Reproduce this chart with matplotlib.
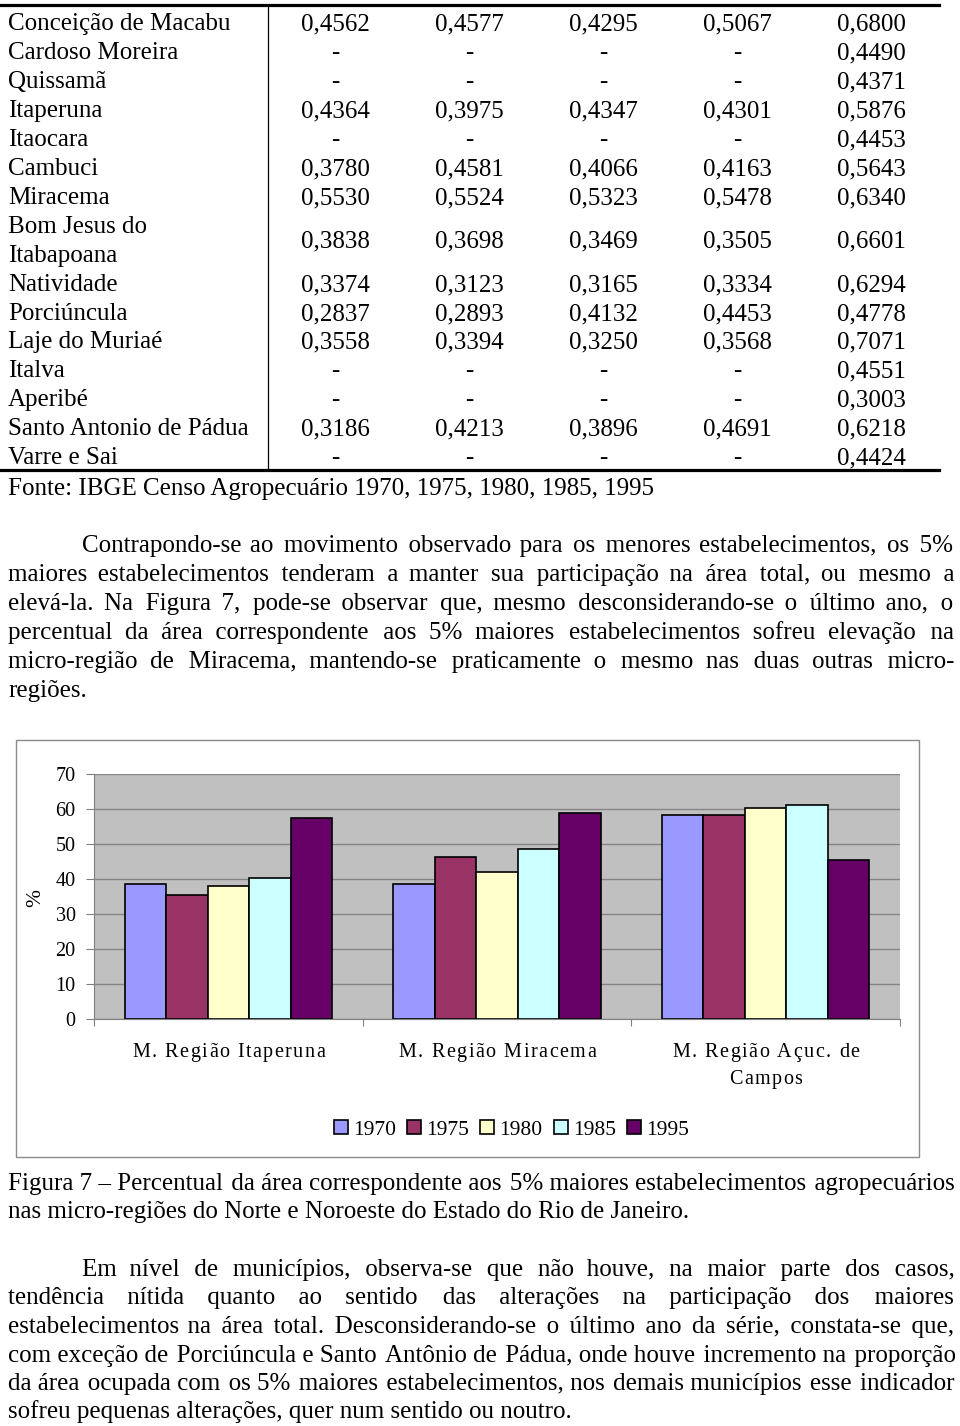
import matplotlib
matplotlib.use("Agg")
import matplotlib.pyplot as plt
from matplotlib.patches import Rectangle

plt.rcParams['font.family'] = ['Liberation Serif', 'DejaVu Serif']

# ------------------ table data ------------------
municipios = ["Conceição de Macabu", "Cardoso Moreira", "Quissamã", "Itaperuna", "Itaocara",
              "Cambuci", "Miracema", "Bom Jesus do\nItabapoana", "Natividade", "Porciúncula",
              "Laje do Muriaé", "Italva", "Aperibé", "Santo Antonio de Pádua", "Varre e Sai"]
t1970 = [0.4562, None, None, 0.4364, None, 0.3780, 0.5530, 0.3838, 0.3374, 0.2837, 0.3558, None, None, 0.3186, None]
t1975 = [0.4577, None, None, 0.3975, None, 0.4581, 0.5524, 0.3698, 0.3123, 0.2893, 0.3394, None, None, 0.4213, None]
t1980 = [0.4295, None, None, 0.4347, None, 0.4066, 0.5323, 0.3469, 0.3165, 0.4132, 0.3250, None, None, 0.3896, None]
t1985 = [0.5067, None, None, 0.4301, None, 0.4163, 0.5478, 0.3505, 0.3334, 0.4453, 0.3568, None, None, 0.4691, None]
t1995 = [0.6800, 0.4490, 0.4371, 0.5876, 0.4453, 0.5643, 0.6340, 0.6601, 0.6294, 0.4778, 0.7071, 0.4551, 0.3003, 0.6218, 0.4424]

# ------------------ chart data ------------------
regioes = ["M. Região Itaperuna", "M. Região Miracema", "M. Região Açuc. de\nCampos"]
anos = ["1970", "1975", "1980", "1985", "1995"]
pct1970 = [38.6, 38.5, 58.2]
pct1975 = [35.4, 46.2, 58.2]
pct1980 = [38.1, 42.1, 60.1]
pct1985 = [40.3, 48.4, 61.0]
pct1995 = [57.4, 58.7, 45.3]
cores = ["#9999FF", "#993366", "#FFFFCC", "#CCFFFF", "#660066"]

# ------------------ text ------------------
fonte = "Fonte: IBGE Censo Agropecuário 1970, 1975, 1980, 1985, 1995"
par1 = ["Contrapondo-se ao movimento observado para os menores estabelecimentos, os 5%",
        "maiores estabelecimentos tenderam a manter sua participação na área total, ou mesmo a",
        "elevá-la. Na Figura 7, pode-se observar que, mesmo desconsiderando-se o último ano, o",
        "percentual da área correspondente aos 5% maiores estabelecimentos sofreu elevação na",
        "micro-região de Miracema, mantendo-se praticamente o mesmo nas duas outras micro-",
        "regiões."]
legenda = ["Figura 7 – Percentual da área correspondente aos 5% maiores estabelecimentos agropecuários",
           "nas micro-regiões do Norte e Noroeste do Estado do Rio de Janeiro."]
par2 = ["Em nível de municípios, observa-se que não houve, na maior parte dos casos,",
        "tendência nítida quanto ao sentido das alterações na participação dos maiores",
        "estabelecimentos na área total. Desconsiderando-se o último ano da série, constata-se que,",
        "com exceção de Porciúncula e Santo Antônio de Pádua, onde houve incremento na proporção",
        "da área ocupada com os 5% maiores estabelecimentos, nos demais municípios esse indicador",
        "sofreu pequenas alterações, quer num sentido ou noutro."]

W, H = 960, 1426
FS = 18
HAIR = "\u200a"
fig = plt.figure(figsize=(W / 100, H / 100), dpi=100)
fig.patch.set_facecolor("white")
page = fig.add_axes([0, 0, 1, 1])
page.set_xlim(0, W)
page.set_ylim(H, 0)
page.axis("off")
renderer = fig.canvas.get_renderer()


def largura_txt(s, size):
    t = page.text(0, 0, s, fontsize=size)
    w = t.get_window_extent(renderer).width
    t.remove()
    return w


hair_w = (largura_txt("x" + HAIR * 40 + "x", FS) - largura_txt("xx", FS)) / 40


def linha(s, x0, x1, y, justify=True, size=FS):
    # whole line as one text; justified by padding the spaces with hair spaces
    t = page.text(x0, y, s, fontsize=size, va="baseline")
    if not justify:
        return
    words = s.split()
    n = len(words) - 1
    extra = (x1 - x0) - t.get_window_extent(renderer).width
    k = max(0, round(extra / hair_w))
    parts = [words[0]]
    for g in range(n):
        cnt = (k * (g + 1)) // n - (k * g) // n
        parts.append(" " + HAIR * cnt + words[g + 1])
    t.set_text("".join(parts))


def espacado(s, xc, y, size, track):
    arts, ws = [], []
    for c in s:
        if c == " ":
            arts.append(None)
            ws.append(size * 100 / 72 * 0.25)
        else:
            a = page.text(0, y, c, fontsize=size, va="baseline")
            arts.append(a)
            ws.append(a.get_window_extent(renderer).width)
    total = sum(ws) + track * (len(s) - 1)
    x = xc - total / 2
    for a, w in zip(arts, ws):
        if a is not None:
            a.set_x(x)
        x += w + track


# ------------------ table ------------------
page.plot([0, 939], [5, 5], color="black", lw=2.3)
page.plot([0, 939], [469.5, 469.5], color="black", lw=2.3)
page.plot([268, 268], [5, 469.5], color="black", lw=0.9)

col_x = [335.5 + 134 * i for i in range(5)]
y = 30.5
for i, nome in enumerate(municipios):
    partes = nome.split("\n")
    for k, p in enumerate(partes):
        page.text(8, round(y + 28.9 * k), p, fontsize=FS, va="baseline")
    yv = round(y + 28.9 * (len(partes) - 1) / 2)
    for cx, serie in zip(col_x, [t1970, t1975, t1980, t1985, t1995]):
        v = serie[i]
        txt = "-" if v is None else f"{v:.4f}".replace(".", ",")
        page.text(cx, yv, txt, fontsize=FS, va="baseline", ha="center")
    y += 28.9 * len(partes)

page.text(8, 495, fonte, fontsize=FS, va="baseline")

# ------------------ paragraphs ------------------
for k, s in enumerate(par1):
    x0 = 82 if k == 0 else 8
    linha(s, x0, 954, round(552.3 + 28.9 * k), justify=(k < len(par1) - 1))

for k, s in enumerate(legenda):
    linha(s, 8, 955, round(1190 + 28.5 * k), justify=(k == 0))

for k, s in enumerate(par2):
    x0 = 82 if k == 0 else 8
    linha(s, x0, 954, round(1276 + 28.5 * k), justify=(k < len(par2) - 1))

# ------------------ chart ------------------
page.add_patch(Rectangle((16, 739.5), 919.3 - 16, 1157 - 739.5, fill=False,
                         edgecolor="#8a8a8a", lw=1.0))

left, right, top, bottom = 94.3, 900, 773.7, 1019.3
ax = fig.add_axes([left / W, 1 - bottom / H, (right - left) / W, (bottom - top) / H])
ax.set_facecolor("#C0C0C0")
ax.set_axisbelow(True)
ax.yaxis.grid(True, color="#858585", lw=1.0)

largura = 0.1545
series = [pct1970, pct1975, pct1980, pct1985, pct1995]
barras = []
for j, (ano, vals, cor) in enumerate(zip(anos, series, cores)):
    xs = [i + (j - 2) * largura for i in range(len(regioes))]
    b = ax.bar(xs, vals, width=largura, color=cor, edgecolor="black", lw=1.2, label=ano)
    barras.append(b)

ax.set_xlim(-0.5, len(regioes) - 0.5)
ax.set_ylim(0, 70)
ax.set_yticks(range(0, 71, 10))
ax.set_xticks([i - 0.5 for i in range(len(regioes) + 1)])
ax.set_xticklabels([])
ax.tick_params(axis="y", length=5.5, color="#808080", pad=8, labelsize=14.5)
ax.tick_params(axis="x", length=5, color="#808080")
for s in ["top", "right"]:
    ax.spines[s].set_visible(False)
for s in ["left", "bottom"]:
    ax.spines[s].set_color("#808080")

page.text(36, 898, "%", fontsize=15.5, rotation=90, ha="center", va="center")

# category labels, letter-spaced like the original
for i, nome in enumerate(regioes):
    xc = ax.transData.transform((i, 0))[0]
    for k, p in enumerate(nome.split("\n")):
        espacado(p, xc, 1057 + 27 * k, 14.5, 1.5)

fig.legend(handles=barras, labels=anos, loc="center", ncol=5, frameon=False,
           bbox_to_anchor=(511.5 / W, 1 - 1130 / H), fontsize=15.5,
           handlelength=0.65, handleheight=0.65, handletextpad=0.25,
           columnspacing=0.5, borderpad=0)

fig.savefig("out.png", dpi=100)
